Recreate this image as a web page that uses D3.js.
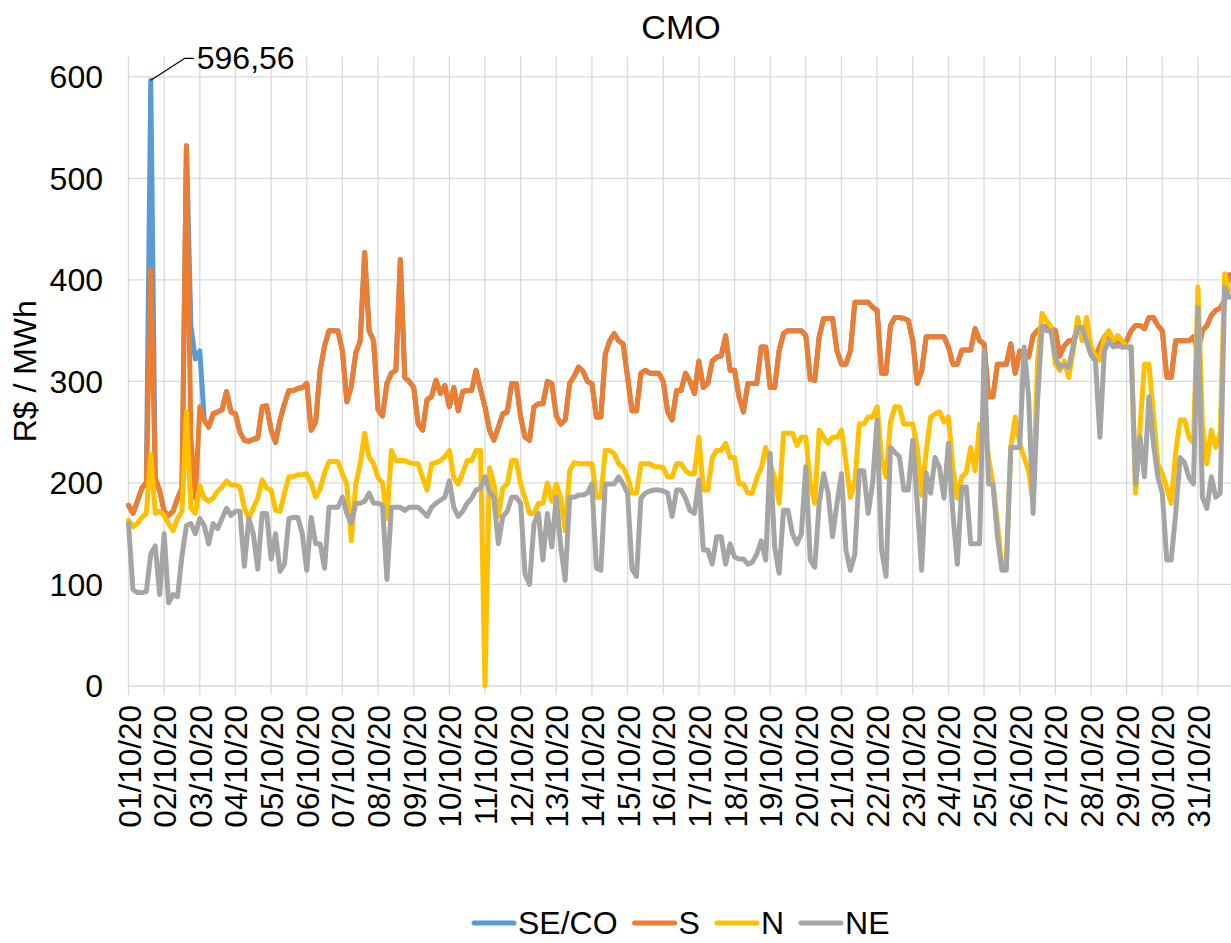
<!DOCTYPE html>
<head>
  <meta charset="utf-8">
  <title>CMO</title>
  <style>
  body { margin: 0; background: #fff; }
  svg text { font-family: "Liberation Sans", Arial, sans-serif; fill: #000; }
  .grid line { stroke: #d9d9d9; stroke-width: 1.3; }
  .serie { fill: none; stroke-width: 5; stroke-linejoin: round; stroke-linecap: round; }
  </style>
</head>
<body>
<svg id="chart"></svg>

<script src="https://cdnjs.cloudflare.com/ajax/libs/d3/7.8.5/d3.min.js"></script>
<script>
"use strict";

// rótulos do eixo x (um por dia)
var dias = ["01/10/20","02/10/20","03/10/20","04/10/20","05/10/20","06/10/20","07/10/20","08/10/20",
  "09/10/20","10/10/20","11/10/20","12/10/20","13/10/20","14/10/20","15/10/20","16/10/20",
  "17/10/20","18/10/20","19/10/20","20/10/20","21/10/20","22/10/20","23/10/20","24/10/20",
  "25/10/20","26/10/20","27/10/20","28/10/20","29/10/20","30/10/20","31/10/20"];

// amostras a cada 3 horas: 0,3,6,9,12,15,18,21 de cada dia
var horas = d3.range(0, 744, 3);

var yTicks = [0, 100, 200, 300, 400, 500, 600];

// SE/CO
var seco = [
  178,170,182,195,200,596.56,205,192,
  172,168,172,185,195,532,355,322,
  330,262,255,268,270,272,290,270,
  268,250,242,241,243,244,275,276,
  252,240,262,278,291,291,293,294,
  298,252,260,311,335,350,350,350,
  330,280,295,328,340,427,350,340,
  272,266,298,308,311,420,304,300,
  294,258,252,282,285,301,288,296,
  275,294,271,290,291,291,311,292,
  275,252,242,255,268,270,298,298,
  265,245,242,275,278,278,300,298,
  266,258,262,298,305,314,310,300,
  298,265,265,327,340,347,340,337,
  304,271,271,308,311,308,308,308,
  300,270,262,291,291,308,300,288,
  320,294,298,320,324,325,345,311,
  311,285,270,298,298,298,334,334,
  294,294,330,347,350,350,350,350,
  345,302,301,344,362,362,362,330,
  317,317,330,378,378,378,378,373,
  370,308,308,355,363,363,362,360,
  340,298,310,344,344,344,344,344,
  334,317,317,331,331,331,352,340,
  337,285,285,317,317,317,337,308,
  330,324,324,345,350,354,354,352,
  350,325,335,340,340,352,350,340,
  327,324,335,344,344,338,338,334,
  340,350,355,355,352,363,363,355,
  350,304,304,340,340,340,340,344,
  330,350,355,365,370,372,380,405
];

// S
var sul = [
  178,170,182,195,200,410,205,192,
  172,168,172,185,195,532,245,185,
  275,262,255,268,270,272,290,270,
  268,250,242,241,243,244,275,276,
  252,240,262,278,291,291,293,294,
  298,252,260,311,335,350,350,350,
  330,280,295,328,340,427,350,340,
  272,266,298,308,311,420,304,300,
  294,258,252,282,285,301,288,296,
  275,294,271,290,291,291,311,292,
  275,252,242,255,268,270,298,298,
  265,245,242,275,278,278,300,298,
  266,258,262,298,305,314,310,300,
  298,265,265,327,340,347,340,337,
  304,271,271,308,311,308,308,308,
  300,270,262,291,291,308,300,288,
  320,294,298,320,324,325,345,311,
  311,285,270,298,298,298,334,334,
  294,294,330,347,350,350,350,350,
  345,302,301,344,362,362,362,330,
  317,317,330,378,378,378,378,373,
  370,308,308,355,363,363,362,360,
  340,298,310,344,344,344,344,344,
  334,317,317,331,331,331,352,340,
  337,285,285,317,317,317,337,308,
  330,324,324,345,350,354,354,352,
  350,325,335,340,340,352,350,340,
  327,324,335,344,344,338,338,334,
  340,350,355,355,352,363,363,355,
  350,304,304,340,340,340,340,344,
  330,350,355,365,370,372,380,405
];

// N
var norte = [
  163,157,160,166,170,228,170,172,
  168,160,153,165,172,270,175,170,
  197,185,182,185,192,196,202,198,
  198,196,175,165,175,185,203,195,
  193,173,172,190,206,206,208,208,
  209,200,186,194,210,221,221,221,
  209,199,143,199,219,249,225,219,
  205,200,165,232,222,222,222,220,
  219,219,205,193,219,220,222,226,
  232,205,199,210,222,222,232,232,
  0,215,199,167,195,199,222,222,
  199,185,170,170,180,180,200,182,
  199,185,153,212,220,219,219,219,
  219,186,186,232,232,229,219,215,
  206,190,190,219,219,219,216,216,
  215,206,206,219,219,212,209,209,
  245,193,193,225,232,232,239,225,
  225,199,199,190,190,205,215,235,
  219,205,180,249,249,249,237,245,
  245,200,180,252,245,239,245,245,
  252,220,186,200,258,258,265,265,
  275,225,206,260,275,275,258,258,
  258,235,188,230,265,268,270,260,
  265,215,185,206,210,235,212,258,
  260,225,199,160,117,121,235,265,
  239,225,212,180,320,367,360,354,
  317,311,320,304,330,363,340,363,
  334,325,321,344,350,340,345,340,
  334,334,190,255,317,317,268,219,
  209,195,180,230,262,262,245,239,
  393,258,219,252,235,250,406,390
];

// NE
var nordeste = [
  160,95,92,92,93,130,138,90,
  150,82,90,88,128,158,160,150,
  165,158,140,160,155,165,175,168,
  172,172,118,165,150,115,170,170,
  125,150,113,120,165,166,166,150,
  114,166,140,140,116,176,176,176,
  186,170,160,180,180,182,190,180,
  180,178,105,176,176,176,173,176,
  176,176,172,167,176,180,183,186,
  202,176,167,172,180,185,193,195,
  206,192,185,140,167,172,186,186,
  180,110,100,160,170,124,170,137,
  186,137,104,186,186,188,188,190,
  199,116,114,199,199,199,206,199,
  190,115,108,185,190,192,193,193,
  192,190,167,193,193,185,173,170,
  203,134,134,120,147,147,120,140,
  127,125,125,120,122,130,143,124,
  229,137,111,173,173,150,140,150,
  216,124,117,180,209,190,147,180,
  209,134,114,130,212,212,170,200,
  262,134,108,235,230,226,193,193,
  242,180,114,210,190,225,215,185,
  239,170,120,196,196,140,140,140,
  330,199,199,147,114,114,235,235,
  235,334,285,170,280,354,350,350,
  324,314,316,314,335,353,353,340,
  326,320,245,330,340,334,335,334,
  334,334,199,245,206,285,239,206,
  190,124,124,170,225,220,205,199,
  373,186,175,206,186,190,393,383
];

var series = [
  {nome: "SE/CO", valores: seco,     cor: "#5b9bd5"},
  {nome: "S",     valores: sul,      cor: "#ed7d31"},
  {nome: "N",     valores: norte,    cor: "#ffc000"},
  {nome: "NE",    valores: nordeste, cor: "#a5a5a5"}
];

var totalWidth = 1231,
    totalHeight = 943;

var svg = d3.select("#chart")
    .attr("width", totalWidth)
    .attr("height", totalHeight);

// escalas
var x = d3.scaleLinear()
    .domain([0, 744])
    .range([128.5, 1233.6]);

var y = d3.scaleLinear()
    .domain([0, 620])
    .range([686, 56.5]);

// grade
var grid = svg.append("g").attr("class", "grid");

grid.selectAll(".h")
    .data(yTicks)
  .enter().append("line")
    .attr("x1", x(0))
    .attr("x2", x(744))
    .attr("y1", function(d) { return y(d); })
    .attr("y2", function(d) { return y(d); });

grid.selectAll(".v")
    .data(dias)
  .enter().append("line")
    .attr("x1", function(d, i) { return x(i * 24); })
    .attr("x2", function(d, i) { return x(i * 24); })
    .attr("y1", y(620))
    .attr("y2", y(0) + 9);

// rótulos dos eixos
svg.append("g").selectAll("text")
    .data(yTicks)
  .enter().append("text")
    .attr("x", 103)
    .attr("y", function(d) { return y(d); })
    .attr("dy", "0.35em")
    .attr("text-anchor", "end")
    .style("font-size", "32px")
    .text(function(d) { return d; });

svg.append("g").selectAll("text")
    .data(dias)
  .enter().append("text")
    .attr("transform", function(d, i) { return "translate(" + (x(i * 24) + 1) + "," + (y(0) + 19) + ") rotate(-90)"; })
    .attr("dy", "0.35em")
    .attr("text-anchor", "end")
    .style("font-size", "31.5px")
    .text(function(d) { return d; });

svg.append("text")
    .attr("transform", "translate(25," + y(310) + ") rotate(-90)")
    .attr("dy", "0.35em")
    .attr("text-anchor", "middle")
    .style("font-size", "32px")
    .text("R$ / MWh");

svg.append("text")
    .attr("x", 681)
    .attr("y", 39)
    .attr("text-anchor", "middle")
    .style("font-size", "34px")
    .text("CMO");

// linhas
var linha = d3.line()
    .x(function(d, i) { return x(horas[i]); })
    .y(function(d) { return y(d); });

svg.append("g").selectAll("path")
    .data(series)
  .enter().append("path")
    .attr("class", "serie")
    .attr("stroke", function(d) { return d.cor; })
    .attr("d", function(d) { return linha(d.valores); });

// rótulo do máximo do SE/CO
var iMax = d3.maxIndex(seco);
var px = x(horas[iMax]), py = y(seco[iMax]);
svg.append("polyline")
    .attr("points", [[px, py], [px + 34, py - 22], [px + 43, py - 22]].join(" "))
    .attr("fill", "none")
    .attr("stroke", "#000")
    .attr("stroke-width", 1.3);
svg.append("text")
    .attr("x", px + 46)
    .attr("y", py - 22)
    .attr("dy", "0.35em")
    .style("font-size", "32px")
    .text(d3.format(".2f")(seco[iMax]).replace(".", ","));

// legenda
var leg = svg.append("g");
var lx = 474;
series.forEach(function(s) {
  leg.append("line")
      .attr("x1", lx).attr("x2", lx + 40)
      .attr("y1", 923).attr("y2", 923)
      .attr("stroke", s.cor)
      .attr("stroke-width", 5)
      .attr("stroke-linecap", "round");
  var t = leg.append("text")
      .attr("x", lx + 44)
      .attr("y", 923)
      .attr("dy", "0.35em")
      .style("font-size", "32px")
      .text(s.nome);
  lx += 44 + t.node().getComputedTextLength() + 17;
});
</script>
</body>
